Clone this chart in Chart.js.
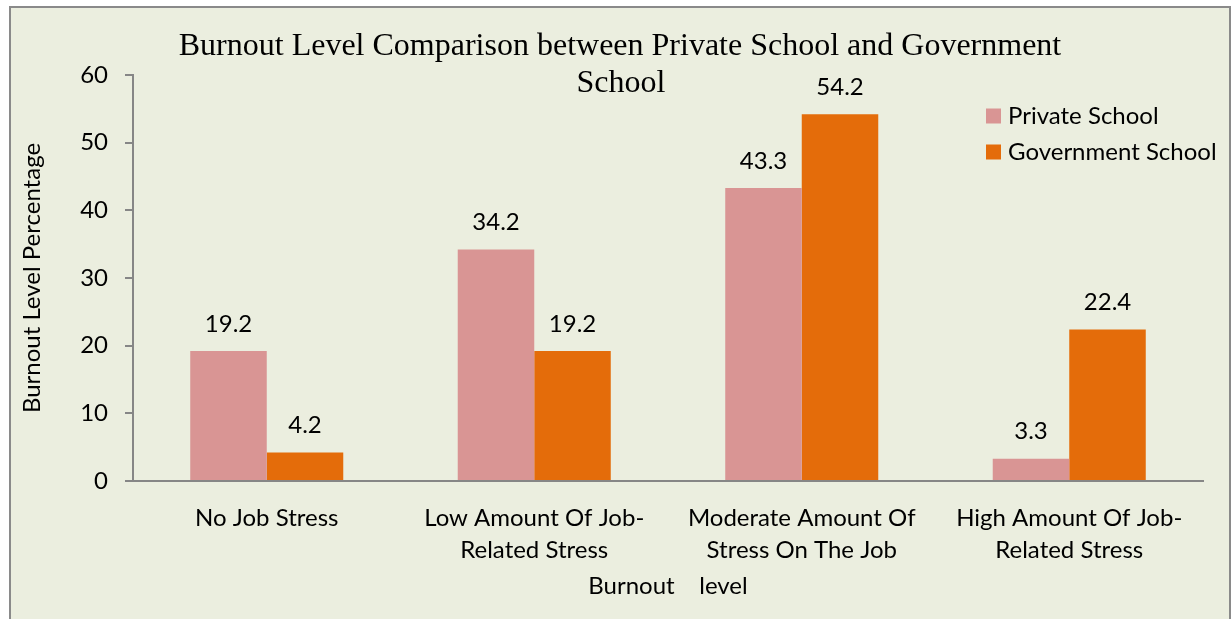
<!DOCTYPE html>
<html lang="en">
<head>
    <meta charset="UTF-8">
    <title>Burnout Level Comparison</title>
    <script src="https://cdn.jsdelivr.net/npm/chart.js"></script>
    <style>
        body {
            margin: 0;
            background-color: #ffffff;
            width: 1232px;
            height: 619px;
            overflow: hidden;
            position: relative;
        }
        .frame {
            position: absolute;
            left: 9px;
            top: 6px;
            width: 1218px;
            height: 640px;
            border: 2px solid #8a8a8a;
            background-color: #ebeedf;
        }
        .chart-box {
            position: absolute;
            left: 0;
            top: 0;
            width: 1232px;
            height: 619px;
        }
    </style>
</head>
<body>
    <div class="frame"></div>
    <div class="chart-box">
        <canvas id="burnoutChart" width="1232" height="619"></canvas>
    </div>

    <script>
        const categories = [
            'No Job Stress',
            ['Low Amount Of Job-', 'Related Stress'],
            ['Moderate Amount Of', 'Stress On The Job'],
            ['High Amount Of Job-', 'Related Stress']
        ];
        const privateSchool = [19.2, 34.2, 43.3, 3.3];
        const governmentSchool = [4.2, 19.2, 54.2, 22.4];
        const yTicks = [0, 10, 20, 30, 40, 50, 60];
        const titleLines = ['Burnout Level Comparison between Private School and Government', 'School'];

        const colors = {
            pink: '#d99594',
            orange: '#e46c0a',
            axis: '#868686',
            text: '#000000'
        };
        const sansFont = 'Lato, "Open Sans", sans-serif';
        const tickSize = 24;

        // title, legend and value labels are painted over the plot like in the original
        const overlayPlugin = {
            id: 'overlay',
            afterDatasetsDraw(chart) {
                const ctx = chart.ctx;
                ctx.save();
                ctx.fillStyle = colors.text;
                ctx.textAlign = 'center';
                ctx.textBaseline = 'middle';
                ctx.font = tickSize + 'px ' + sansFont;
                chart.data.datasets.forEach((ds, i) => {
                    chart.getDatasetMeta(i).data.forEach((bar, j) => {
                        ctx.fillText(ds.data[j].toFixed(1), bar.x, bar.y - 27);
                    });
                });
                ctx.restore();
            },
            afterDraw(chart) {
                const ctx = chart.ctx;
                ctx.save();
                ctx.fillStyle = colors.text;
                ctx.textAlign = 'center';
                ctx.textBaseline = 'middle';
                ctx.font = '32px "Liberation Serif", "Times New Roman", serif';
                ctx.fillText(titleLines[0], 620, 47);
                ctx.fillText(titleLines[1], 621, 84);

                ctx.textAlign = 'left';
                ctx.font = tickSize + 'px ' + sansFont;
                chart.data.datasets.forEach((ds, i) => {
                    const y = 116 + i * 36;
                    ctx.fillStyle = ds.backgroundColor;
                    ctx.fillRect(986, y - 7.5, 15, 15);
                    ctx.fillStyle = colors.text;
                    ctx.fillText(ds.label, 1008, y);
                });
                ctx.restore();
            }
        };

        new Chart(document.getElementById('burnoutChart'), {
            type: 'bar',
            data: {
                labels: categories,
                datasets: [
                    {
                        label: 'Private School',
                        data: privateSchool,
                        backgroundColor: colors.pink,
                        categoryPercentage: 0.572,
                        barPercentage: 1.0
                    },
                    {
                        label: 'Government School',
                        data: governmentSchool,
                        backgroundColor: colors.orange,
                        categoryPercentage: 0.572,
                        barPercentage: 1.0
                    }
                ]
            },
            options: {
                responsive: false,
                animation: false,
                layout: {
                    padding: { top: 75, left: 15, right: 29, bottom: 0 }
                },
                scales: {
                    x: {
                        afterFit(scale) { scale.height = 138; },
                        grid: { display: false },
                        border: { color: colors.axis, width: 2 },
                        ticks: {
                            color: colors.text,
                            padding: 13,
                            maxRotation: 0,
                            autoSkip: false,
                            font: { family: sansFont, size: tickSize, lineHeight: 1.33 }
                        },
                        title: {
                            display: true,
                            text: 'Burnout    level',
                            color: colors.text,
                            padding: { top: 4, bottom: 18 },
                            font: { family: sansFont, size: tickSize }
                        }
                    },
                    y: {
                        min: 0,
                        max: 60,
                        afterFit(scale) { scale.width = 118; },
                        afterBuildTicks(scale) {
                            scale.ticks = yTicks.map(v => ({ value: v }));
                        },
                        grid: {
                            display: true,
                            drawOnChartArea: false,
                            drawTicks: true,
                            tickLength: 8,
                            color: colors.axis,
                            lineWidth: 2
                        },
                        border: { color: colors.axis, width: 2 },
                        ticks: {
                            color: colors.text,
                            padding: 17,
                            font: { family: sansFont, size: tickSize }
                        },
                        title: {
                            display: true,
                            text: 'Burnout Level Percentage',
                            color: colors.text,
                            padding: { top: 3, bottom: 4 },
                            font: { family: sansFont, size: tickSize }
                        }
                    }
                },
                plugins: {
                    legend: { display: false },
                    title: { display: false },
                    tooltip: { enabled: false }
                }
            },
            plugins: [overlayPlugin]
        });
    </script>
</body>
</html>
